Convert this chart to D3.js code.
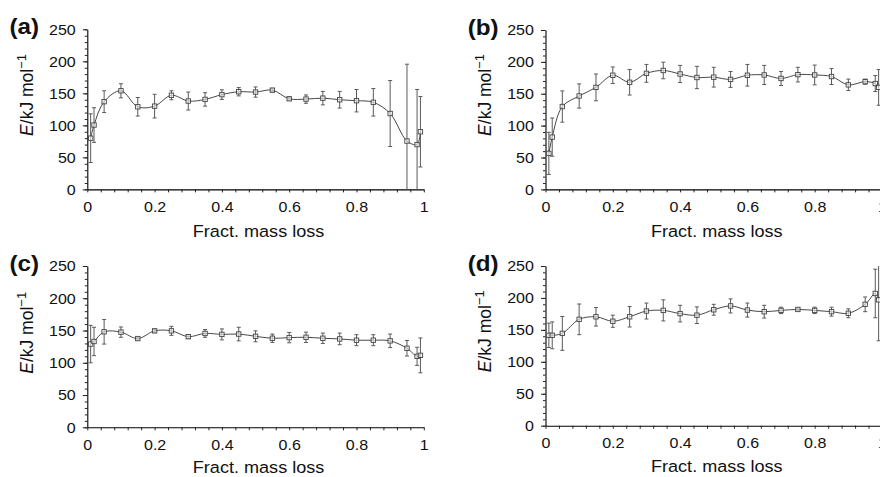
<!DOCTYPE html>
<html><head><meta charset="utf-8">
<script src="https://cdn.jsdelivr.net/npm/d3@7"></script>
<style>
body{margin:0;background:#fff}
svg{display:block}
text{font-family:"Liberation Sans",Arial,Helvetica,sans-serif}
</style>
</head><body>
<svg id="c" width="880" height="477"></svg>
<script>
// ---------- data ----------
const fracMassLoss = [0.01,0.02,0.05,0.1,0.15,0.2,0.25,0.3,0.35,0.4,0.45,0.5,0.55,0.6,0.65,0.7,0.75,0.8,0.85,0.9,0.95,0.98,0.99];

const aE   = [80,100.5,137,154,129,130,147,138,140.5,148,152.5,152,155,141.5,141,142.5,140,138.5,136,118.5,75.5,70,90];
const aErr = [38,27,17,11,14.5,18.5,7,14,10.5,7.5,6.5,8,2,2,6.5,10.5,13,17.5,21.5,51.5,120,86,55];

const bE   = [56.5,82,130,146.5,160,179,168,182,186.5,181,175.5,176,172.5,179,179.5,174,180,179.5,177,164,169,166,160];
const bErr = [33,30,24.5,19,21,13,20,14,13,13.5,17.5,15.5,12.5,17,15,11,11.5,15.5,12.5,9,4,12.5,28];

const cE   = [129,133,148,147.5,137.5,149.5,149.5,140.5,145.5,144,144.5,141,138,139,139.5,138,137,135,135,134,122.5,110,111.5];
const cErr = [29,22,19,8,2,2,7,3,6,8.5,10.5,8.5,6.5,8,8,8,9,8.5,8.5,10.5,12,14,27];

const dE   = [141.5,141.5,144.5,166.5,170.5,163.5,170.5,179.5,180.5,175.5,173,181.5,187.5,181,178.5,180.5,182,180.5,178.5,176,190,207,197];
const dErr = [19,21,26.5,24,14.5,9.5,16,12.5,16.5,13,13,8.5,11,11,10,5,2,5,7,7,11.5,38,64];

const panelLabels = ["(a)","(b)","(c)","(d)"];
const yTickLabels = [0,50,100,150,200,250];
const xTickLabels = [0,0.2,0.4,0.6,0.8,1];
const xTitle = "Fract. mass loss";

// ---------- layout ----------
const series = [[aE,aErr],[bE,bErr],[cE,cErr],[dE,dErr]];
const layout = [
  {ox:87.3,  y0:189.4, yTop:29.3, tt:47.5},
  {ox:545.5, y0:189.4, yTop:30,   tt:47.5},
  {ox:87.3,  y0:427.3, yTop:266,  tt:45.5},
  {ox:545.5, y0:425.7, yTop:266,  tt:46.5}
];
const W = 336.5;
const svg = d3.select("#c");

series.forEach(([E,Err],i)=>{
  const L = layout[i];
  const g = svg.append("g").attr("transform",`translate(${L.ox},0)`);
  const x = d3.scaleLinear().domain([0,1]).range([0,W]);
  const y = d3.scaleLinear().domain([0,250]).range([L.y0,L.yTop]);

  // y minor ticks
  g.append("g")
    .call(d3.axisLeft(y).tickValues(d3.range(0,251,10)).tickSize(2.5).tickSizeOuter(0).tickFormat(""))
    .call(a=>a.select(".domain").remove())
    .call(a=>a.selectAll("line").attr("stroke","#222"));
  // y major
  g.append("g")
    .call(d3.axisLeft(y).tickValues(yTickLabels).tickSize(4.5).tickPadding(6.3).tickSizeOuter(0).tickFormat(d3.format("d")))
    .attr("font-size",15).attr("font-family",null)
    .call(a=>a.select(".domain").attr("stroke","#000").attr("stroke-width",1.1))
    .call(a=>a.selectAll("line").attr("stroke","#222"))
    .call(a=>a.selectAll("text").attr("fill","#111").attr("transform","scale(1.07,1)"));

  // x axis
  const xt = d3.range(0,26).map(k=>+(k*0.04).toFixed(2));
  g.append("g").attr("transform",`translate(0,${L.y0})`)
    .call(d3.axisBottom(x).tickValues(xt).tickSize(3).tickPadding(9).tickSizeOuter(0)
      .tickFormat(d=>{const m=xTickLabels.find(v=>Math.abs(v-d)<1e-6);return m===undefined?"":d3.format("~g")(m);}))
    .attr("font-size",15).attr("font-family",null)
    .call(a=>a.select(".domain").attr("stroke","#000").attr("stroke-width",1.1))
    .call(a=>a.selectAll("line").attr("stroke","#222"))
    .call(a=>a.selectAll("text").attr("fill","#111").attr("transform","scale(1.07,1)"));

  // x title
  g.append("text")
    .attr("transform",`translate(${W/2+3},${L.y0+L.tt}) scale(1.11,1)`)
    .attr("text-anchor","middle").attr("font-size",16.3).attr("fill","#111")
    .text(xTitle);

  // y title
  const yt = g.append("text")
    .attr("transform",`translate(-54.5,${L.y0-53.5}) rotate(-90)`)
    .attr("font-size",17.5).attr("fill","#111");
  yt.append("tspan").attr("font-style","italic").text("E");
  yt.append("tspan").text("/kJ mol");
  yt.append("tspan").attr("font-size",13).attr("dy",-7).text("\u22121");

  // panel label
  svg.append("text")
    .attr("transform",`translate(${L.ox-77.8},${L.yTop+4.5}) scale(1.1,1)`)
    .attr("font-size",22).attr("font-weight","bold").attr("fill","#111")
    .text(panelLabels[i]);

  const pts = fracMassLoss.map((f,j)=>({f, e:E[j], s:Err[j]}));
  const cl = v=>Math.max(0,Math.min(250,v));

  // error bars
  const eb = g.append("g").attr("stroke","#5a5a5a").attr("stroke-width",1);
  pts.forEach(p=>{
    const yhi=y(cl(p.e+p.s)), ylo=y(cl(p.e-p.s)), xx=x(p.f);
    eb.append("line").attr("x1",xx).attr("x2",xx).attr("y1",yhi).attr("y2",ylo);
    if(p.e+p.s<=250) eb.append("line").attr("x1",xx-2).attr("x2",xx+2).attr("y1",yhi).attr("y2",yhi);
    if(p.e-p.s>=0) eb.append("line").attr("x1",xx-2).attr("x2",xx+2).attr("y1",ylo).attr("y2",ylo);
  });

  // line
  g.append("path").datum(pts)
    .attr("fill","none").attr("stroke","#333").attr("stroke-width",0.9)
    .attr("d",d3.line().x(d=>x(d.f)).y(d=>y(d.e)).curve(d3.curveCatmullRom.alpha(0.5)));

  // markers
  g.append("g").selectAll("rect").data(pts).join("rect")
    .attr("x",d=>x(d.f)-2.2).attr("y",d=>y(d.e)-2.2)
    .attr("width",4.4).attr("height",4.4)
    .attr("fill","#fff").attr("fill-opacity",0.6).attr("stroke","#444").attr("stroke-width",0.9);
});
</script>
</body></html>
